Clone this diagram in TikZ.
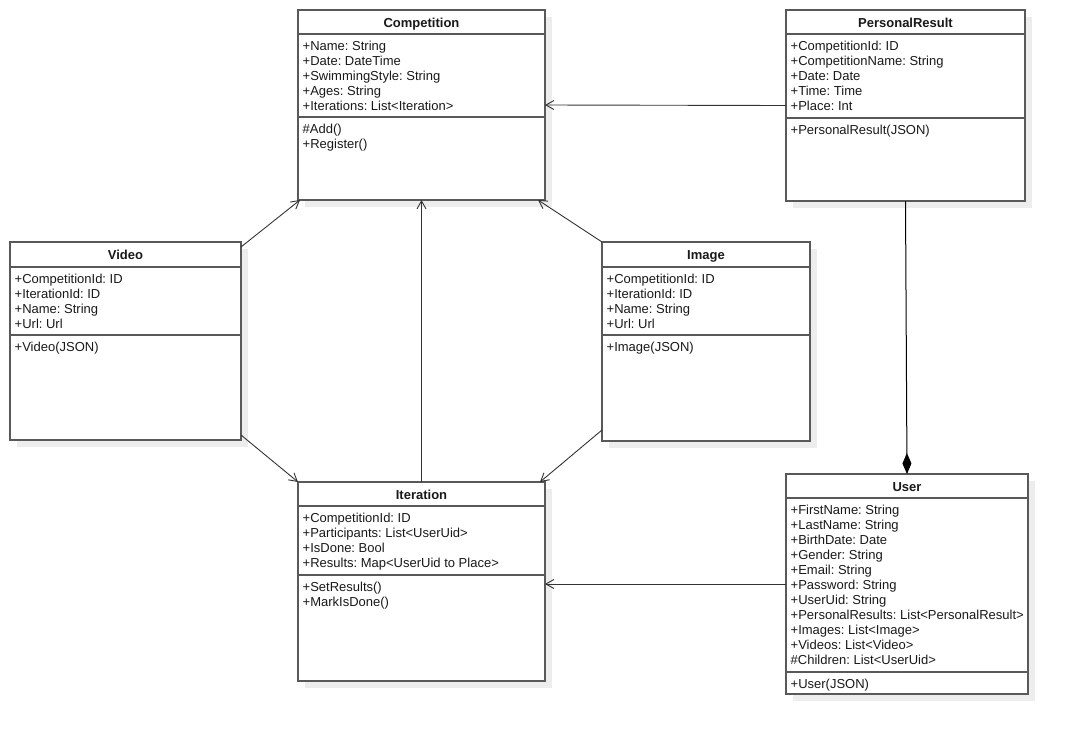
\documentclass[tikz,border=0pt]{standalone}
\usepackage{fontspec}
\setmainfont{Liberation Sans}
\frenchspacing
\usetikzlibrary{arrows.meta,shadows}

\tikzset{
    cls/.style={draw=black!65, line width=1.4pt, fill=white, anchor=north west,
        inner sep=0pt, outer sep=0pt,
        drop shadow={shadow xshift=7pt, shadow yshift=-7pt, fill=black!7, opacity=1}},
    ctitle/.style={anchor=base, inner sep=0pt, text=black!90,
        font=\fontsize{13}{15}\selectfont\bfseries},
    members/.style={anchor=north west, inner sep=0pt, align=left, text=black!90,
        font=\fontsize{13}{15}\selectfont},
    sep/.style={draw=black!65, line width=1.4pt},
    assoc/.style={draw=black!80, line width=0.9pt,
        -{Straight Barb[length=8pt,width=9pt]}},
    composite/.style={draw=black, line width=1pt,
        -{Diamond[length=21pt,width=9pt]}}
}

\begin{document}
\begin{tikzpicture}[x=1pt,y=-1pt]
            \useasboundingbox (0,0) rectangle (1068,734);
            % Competition
            \node[cls, minimum width=247pt, minimum height=190pt] (comp) at (298,10) {};
            \node[ctitle] (comp-t) at (421.5,27) {Competition};
            \draw[sep] (298,34) -- (545,34);
            \draw[sep] (298,117) -- (545,117);
            \node[members] (comp-a) at (302.5,41) {+Name: String\\+Date: DateTime\\
                +SwimmingStyle: String\\+Ages: String\\+Iterations: List<Iteration>};
            \node[members] (comp-m) at (302.5,124) {\#Add()\\+Register()};
            % PersonalResult
            \node[cls, minimum width=239pt, minimum height=191pt] (pres) at (786,10) {};
            \node[ctitle] (pres-t) at (905.5,27) {PersonalResult};
            \draw[sep] (786,34) -- (1025,34);
            \draw[sep] (786,118) -- (1025,118);
            \node[members] (pres-a) at (790.5,41) {+CompetitionId: ID\\
                +CompetitionName: String\\+Date: Date\\+Time: Time\\+Place: Int};
            \node[members] (pres-m) at (790.5,124.5) {+PersonalResult(JSON)};
            % Video
            \node[cls, minimum width=231pt, minimum height=198pt] (video) at (10,242) {};
            \node[ctitle] (video-t) at (125.5,259) {Video};
            \draw[sep] (10,267) -- (241,267);
            \draw[sep] (10,335) -- (241,335);
            \node[members] (video-a) at (14.5,273.5) {+CompetitionId: ID\\
                +IterationId: ID\\+Name: String\\+Url: Url};
            \node[members] (video-m) at (14.5,342) {+Video(JSON)};
            % Image
            \node[cls, minimum width=208pt, minimum height=199pt] (img) at (602,242) {};
            \node[ctitle] (img-t) at (706,259) {Image};
            \draw[sep] (602,267) -- (810,267);
            \draw[sep] (602,335) -- (810,335);
            \node[members] (img-a) at (606.5,273.5) {+CompetitionId: ID\\
                +IterationId: ID\\+Name: String\\+Url: Url};
            \node[members] (img-m) at (606.5,342) {+Image(JSON)};
            % Iteration
            \node[cls, minimum width=247pt, minimum height=199pt] (iter) at (298,482) {};
            \node[ctitle] (iter-t) at (421.5,499) {Iteration};
            \draw[sep] (298,506) -- (545,506);
            \draw[sep] (298,575) -- (545,575);
            \node[members] (iter-a) at (302.5,513) {+CompetitionId: ID\\
                +Participants: List<UserUid>\\+IsDone: Bool\\
                +Results: Map<UserUid to Place>};
            \node[members] (iter-m) at (302.5,582) {+SetResults()\\+MarkIsDone()};
            % User
            \node[cls, minimum width=242pt, minimum height=220pt] (user) at (786,474) {};
            \node[ctitle] (user-t) at (907,491) {User};
            \draw[sep] (786,498) -- (1028,498);
            \draw[sep] (786,672) -- (1028,672);
            \node[members] (user-a) at (790.5,505) {+FirstName: String\\
                +LastName: String\\+BirthDate: Date\\+Gender: String\\
                +Email: String\\+Password: String\\+UserUid: String\\
                +PersonalResults: List<PersonalResult>\\+Images: List<Image>\\
                +Videos: List<Video>\\\#Children: List<UserUid>};
            \node[members] (user-m) at (790.5,679) {+User(JSON)};
            % connectors
            \draw[assoc] (pres.west) -- (comp.east);
            \draw[assoc] ([yshift=-5pt]video.north east) -- ([xshift=2pt]comp.south west);
            \draw[assoc] (iter.north) -- (comp.south);
            \draw[assoc] (img.north west) -- ([xshift=-7pt]comp.south east);
            \draw[assoc] ([yshift=5pt]video.south east) -- (iter.north west);
            \draw[assoc] ([yshift=11pt]img.south west) -- ([xshift=-5pt]iter.north east);
            \draw[assoc] (user.west) -- (user.west -| iter.east);
            \draw[composite] (pres.south) -- (user.north);
        \end{tikzpicture}
\end{document}
